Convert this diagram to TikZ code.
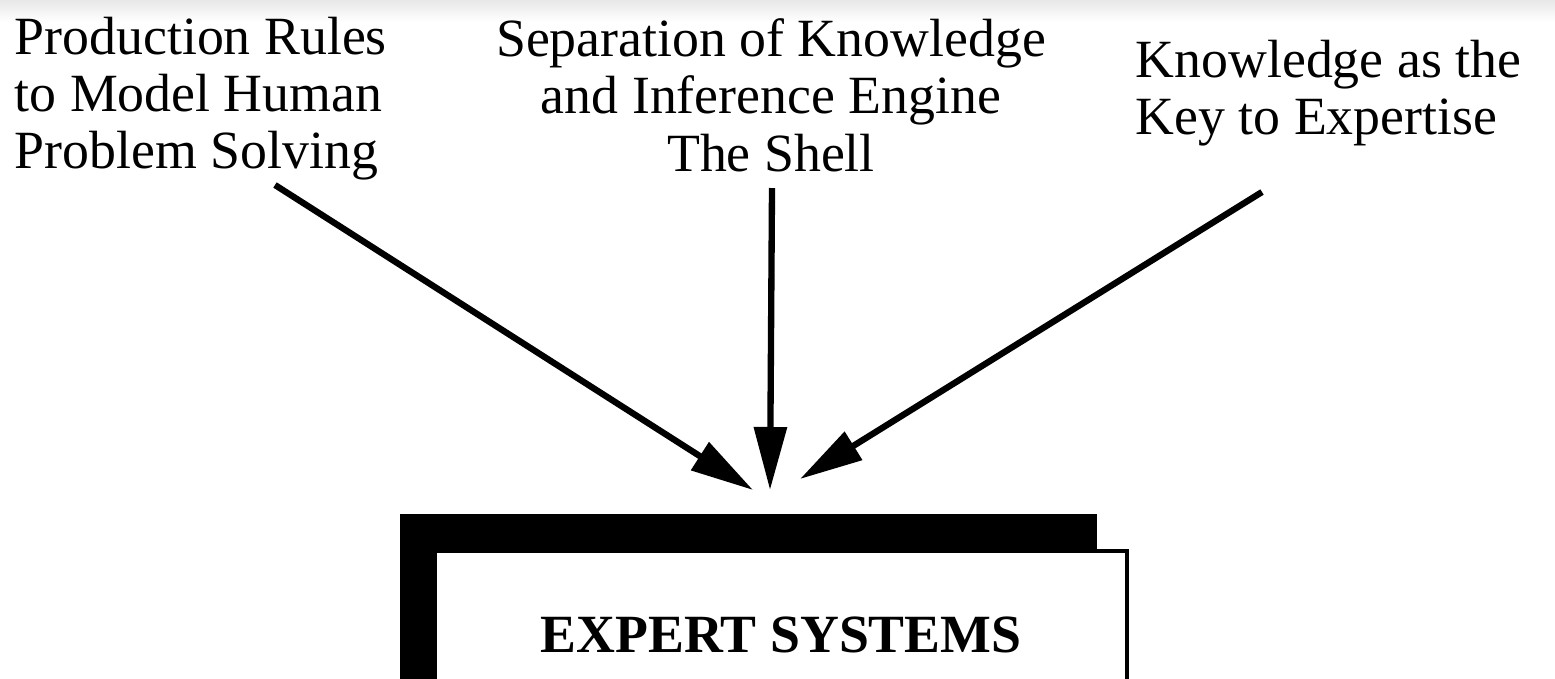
\documentclass[tikz,border=0pt]{standalone}
\usepackage{fontspec}
\setmainfont{Liberation Serif}
\usetikzlibrary{arrows.meta}

\begin{document}
\begin{tikzpicture}[x=0.01cm,y=-0.01cm,font=\fontsize{15.3}{16.3}\selectfont,
  srctext/.style={inner sep=0pt},
  feed/.style={-{Triangle[length=0.63cm,width=0.32cm]},line width=1.8pt}]
\useasboundingbox (0,0) rectangle (1555,678);
\clip (0,0) rectangle (1555,678);
\shade[top color=black!9,bottom color=white] (0,0) rectangle (1555,22);
% the three sources
\node[srctext,anchor=north west,align=left] (rules) at (14,16)
  {Production Rules\\to Model Human\\Problem Solving};
\node[srctext,anchor=north,align=center] (shell) at (771,18)
  {Separation of Knowledge\\and Inference Engine\\The Shell};
\node[srctext,anchor=north west,align=left] (key) at (1135,39)
  {Knowledge as the\\Key to Expertise};
% arrow ends
\coordinate (fromL) at (275,185);
\coordinate (fromM) at (772,188);
\coordinate (fromR) at (1262,192);
\coordinate (tipL) at (753,490);
\coordinate (tipM) at (770,490);
\coordinate (tipR) at (800,479);
\draw[feed] (fromL) -- (tipL);
\draw[feed] (fromM) -- (tipM);
\draw[feed] (fromR) -- (tipR);
% the box with its heavy shadow
\fill (400,514) rectangle (1097,700);
\draw[fill=white,line width=0.9pt] (435,551) rectangle (1127,700);
\node[srctext,font=\fontsize{15.3}{18}\selectfont\bfseries,anchor=base] (title) at (781,652) {EXPERT SYSTEMS};
\end{tikzpicture}
\end{document}
